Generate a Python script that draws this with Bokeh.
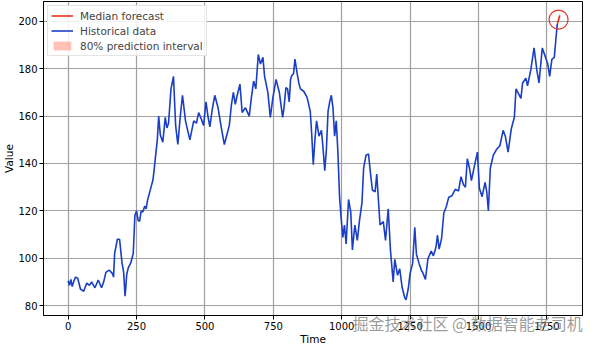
from bokeh.plotting import figure
from bokeh.models import Range1d, Legend, LegendItem, Title, FixedTicker
from bokeh.embed import file_html
from bokeh.resources import INLINE

# ---- data ----
hist_t = [0, 5, 10, 15, 20, 27, 35, 45, 57, 68, 78, 86, 98, 110, 122, 130, 138, 150, 162, 166,
          170, 180, 188, 197, 203, 208, 211, 214, 220, 229, 238, 244, 250, 256, 261, 267, 273, 280,
          285, 291, 303, 310, 314, 320, 326, 331, 337, 346, 355, 361, 367, 376, 385, 393, 401, 410,
          418, 429, 437, 445, 459, 469, 477, 486, 495, 504, 511, 518, 527, 536, 548, 560, 571, 580,
          589, 597, 604, 611, 618, 628, 636, 648, 662, 670, 678, 686, 695, 703, 712, 718, 730, 739,
          748, 760, 772, 784, 789, 796, 802, 808, 813, 817, 824, 829, 837, 843, 849, 861, 873, 885,
          890, 896, 902, 908, 917, 926, 932, 938, 944, 950, 956, 962, 968, 974, 980, 986, 992, 998,
          1004, 1010, 1016, 1025, 1033, 1039, 1048, 1057, 1065, 1074, 1080, 1089, 1098, 1104, 1112,
          1122, 1128, 1134, 1140, 1152, 1160, 1170, 1178, 1188, 1194, 1204, 1212, 1221, 1230, 1235,
          1243, 1250, 1259, 1267, 1273, 1283, 1291, 1297, 1306, 1315, 1327, 1335, 1344, 1350, 1356,
          1365, 1373, 1382, 1391, 1403, 1415, 1427, 1436, 1445, 1452, 1459, 1467, 1474, 1486, 1496,
          1503, 1513, 1524, 1530, 1536, 1543, 1554, 1566, 1578, 1590, 1598, 1608, 1620, 1631, 1637,
          1646, 1655, 1661, 1673, 1679, 1691, 1703, 1713, 1721, 1733, 1745, 1753, 1760, 1768, 1777,
          1782, 1788]
hist_v = [90.5, 88.5, 91.0, 88.0, 90.0, 92.0, 91.5, 87.0, 86.0, 89.5, 88.5, 90.0, 87.5, 90.8, 87.5, 90.0, 94.0, 95.0, 93.5, 92.0,
          102.0, 108.0, 108.0, 98.0, 94.0, 84.0, 88.0, 93.0, 96.0, 98.0, 102.0, 118.0, 120.0, 116.0, 115.5, 120.0, 119.5, 122.0,
          120.8, 124.8, 130.0, 133.0, 137.0, 143.5, 150.0, 160.0, 152.0, 149.0, 159.5, 155.0, 157.0, 171.5, 176.8, 156.0, 148.0, 160.0,
          168.8, 158.0, 154.0, 150.0, 158.0, 157.0, 161.5, 159.0, 156.0, 166.0, 160.0, 155.5, 163.0, 168.8, 163.5, 155.0, 148.0, 152.0,
          156.0, 165.0, 170.0, 165.0, 168.8, 173.5, 161.5, 163.5, 160.0, 168.0, 174.8, 171.5, 186.0, 182.0, 184.8, 176.8, 170.0, 159.5,
          167.5, 175.5, 170.0, 159.5, 163.5, 172.0, 171.5, 166.0, 175.5, 177.0, 178.0, 184.1, 178.0, 174.0, 171.5, 170.5, 168.0, 162.0,
          153.0, 139.5, 150.0, 158.0, 151.5, 154.0, 146.0, 137.0, 146.0, 162.0, 166.0, 168.8, 163.5, 151.5, 158.0, 144.8, 126.0, 116.8,
          108.8, 114.0, 106.0, 124.8, 119.5, 103.5, 114.0, 107.5, 116.0, 123.5, 138.0, 143.5, 144.0, 137.0, 128.8,
          128.0, 135.5, 124.8, 114.0, 115.5, 107.5, 120.8, 103.5, 90.0, 99.5, 92.8, 95.5, 87.5, 83.5, 82.4,
          87.0, 93.7, 97.7, 113.0, 101.7, 97.7, 95.0, 93.7, 91.0, 99.7, 103.0, 101.0, 104.4, 109.7, 103.8,
          108.4, 119.0, 121.7, 125.7, 126.4, 129.1, 128.4, 134.4, 131.0, 130.0, 142.0, 138.0, 132.8, 139.5, 144.8,
          129.5, 126.0, 132.0, 128.0, 120.0, 138.0, 143.5, 146.0, 147.5, 154.0, 151.5, 144.8, 154.8, 159.5, 171.5,
          169.5, 167.5, 174.0, 176.0, 172.8, 179.5, 188.8, 179.5, 174.0, 188.8, 184.8, 182.0, 176.8, 184.0, 184.8,
          191.5, 199.0]

fc_t = [1788, 1797]
fc_median = [199.0, 202.5]
fc_low = [198.2, 201.0]
fc_high = [199.8, 204.0]

x_ticks = [0, 250, 500, 750, 1000, 1250, 1500, 1750]
y_ticks = [80, 100, 120, 140, 160, 180, 200]

FONT = "DejaVu Sans"

p = figure(width=584, height=346, output_backend="svg", toolbar_location=None,
           x_range=Range1d(-90, 1880), y_range=Range1d(75.8, 208.4),
           min_border_left=0, min_border_right=2, min_border_top=1, min_border_bottom=0)

p.background_fill_color = "white"
p.border_fill_color = "white"
p.outline_line_color = "black"
p.outline_line_width = 1

band = p.varea(x=fc_t, y1=fc_low, y2=fc_high, fill_color="tomato", fill_alpha=0.4)
hist = p.line(hist_t, hist_v, line_color="#1a3ec6", line_width=1.6)
med = p.line(fc_t, fc_median, line_color="#e5331f", line_width=1.6)

# highlight circle around the forecast
p.scatter([sum(fc_t) / 2], [sum(fc_median) / 2], marker="circle", size=19,
          fill_color=None, line_color="#e5331f", line_width=1.2)

for ax in (p.xaxis[0], p.yaxis[0]):
    ax.axis_line_color = "black"
    ax.major_tick_line_color = "black"
    ax.major_tick_out = 4
    ax.major_tick_in = 0
    ax.minor_tick_line_color = None
    ax.major_label_text_font = FONT
    ax.major_label_text_font_size = "10px"
    ax.major_label_text_color = "black"
    ax.axis_label_text_font = FONT
    ax.axis_label_text_font_size = "10.5px"
    ax.axis_label_text_font_style = "normal"
    ax.axis_label_text_color = "black"
    ax.major_label_standoff = 2
    ax.axis_label_standoff = 0

p.xaxis.ticker = FixedTicker(ticks=x_ticks)
p.yaxis.ticker = FixedTicker(ticks=y_ticks)
p.yaxis.axis_label = "Value"

p.xgrid.ticker = FixedTicker(ticks=x_ticks)
p.ygrid.ticker = FixedTicker(ticks=y_ticks)
for g in (p.xgrid[0], p.ygrid[0]):
    g.grid_line_color = "#a0a0a0"
    g.grid_line_width = 1.2

legend = Legend(items=[
    LegendItem(label="Median forecast", renderers=[med]),
    LegendItem(label="Historical data", renderers=[hist]),
    LegendItem(label="80% prediction interval", renderers=[band]),
], location="top_left")
legend.label_text_font = FONT
legend.label_text_font_size = "10.5px"
legend.label_height = 13
legend.glyph_height = 11
legend.glyph_width = 22
legend.spacing = 2
legend.padding = 3
legend.margin = 4
legend.label_standoff = 7
legend.border_line_color = "#cccccc"
legend.border_line_width = 1
legend.background_fill_alpha = 0.85
p.add_layout(legend)

# watermark overlapping the tick-label row (as in the reference screenshot)
wm = Title(text="掘金技术社区 @ 数据智能老司机", align="left", vertical_align="top",
           offset=309, standoff=-44,
           text_font="Noto Sans CJK SC", text_font_size="16px", text_font_style="normal",
           text_color="#7a7a7a", text_alpha=0.75)
p.add_layout(wm, "below")

# x axis title
xt = Title(text="Time", align="center", vertical_align="top", standoff=0,
           text_font=FONT, text_font_size="10.5px", text_font_style="normal",
           text_color="black")
p.add_layout(xt, "below")

open("out.html", "w").write(file_html(p, INLINE))
